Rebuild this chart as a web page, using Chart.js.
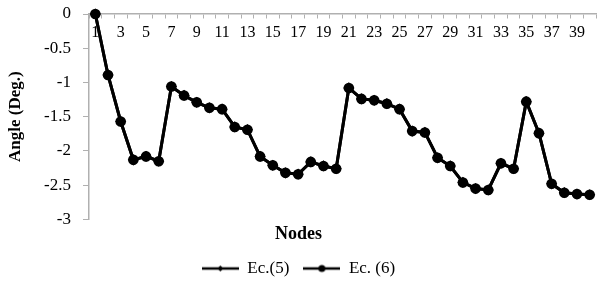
<!DOCTYPE html>
<html>
<head>
<meta charset="utf-8">
<script src="https://cdn.jsdelivr.net/npm/chart.js@4.4.1/dist/chart.umd.min.js"></script>
<style>
  html, body { margin: 0; padding: 0; background: #fff; }
  #wrap { width: 603px; height: 286px; }
</style>
</head>
<body>
<div id="wrap"><canvas id="grafico" width="603" height="286"></canvas></div>
<script>
// nodes 1..40
const nodes = ['1','2','3','4','5','6','7','8','9','10','11','12','13','14','15','16','17','18','19','20',
  '21','22','23','24','25','26','27','28','29','30','31','32','33','34','35','36','37','38','39','40'];

const ec5 = [0, -0.89, -1.57, -2.13, -2.08, -2.15, -1.06, -1.19, -1.29, -1.37,
  -1.39, -1.65, -1.69, -2.08, -2.21, -2.32, -2.34, -2.16, -2.22, -2.26,
  -1.08, -1.24, -1.26, -1.31, -1.39, -1.71, -1.73, -2.10, -2.22, -2.46,
  -2.55, -2.57, -2.18, -2.26, -1.28, -1.74, -2.48, -2.61, -2.63, -2.64];

const ec6 = [0, -0.89, -1.57, -2.13, -2.08, -2.15, -1.06, -1.19, -1.29, -1.37,
  -1.39, -1.65, -1.69, -2.08, -2.21, -2.32, -2.34, -2.16, -2.22, -2.26,
  -1.08, -1.24, -1.26, -1.31, -1.39, -1.71, -1.73, -2.10, -2.22, -2.46,
  -2.55, -2.57, -2.18, -2.26, -1.28, -1.74, -2.48, -2.61, -2.63, -2.64];

const serie5 = 'Ec.(5)';
const serie6 = 'Ec. (6)';

const fonte = "'Liberation Serif', 'Times New Roman', serif";
const cinza = '#b0b0b0';

// legend icon: short line with marker in the middle
function iconeLegenda(tipo) {
  const c = document.createElement('canvas');
  c.width = 37; c.height = 10;
  const g = c.getContext('2d');
  g.strokeStyle = '#000'; g.fillStyle = '#000'; g.lineWidth = 2.5;
  g.beginPath(); g.moveTo(0, 5); g.lineTo(37, 5); g.stroke();
  g.beginPath();
  if (tipo === 'diamante') {
    g.moveTo(18.5, 2); g.lineTo(21.5, 5); g.lineTo(18.5, 8); g.lineTo(15.5, 5); g.closePath();
  } else {
    g.arc(18.5, 5, 3.5, 0, Math.PI * 2);
  }
  g.fill();
  return c;
}
const icones = [iconeLegenda('diamante'), iconeLegenda('circulo')];

const ctx = document.getElementById('grafico').getContext('2d');

new Chart(ctx, {
  type: 'line',
  data: {
    labels: nodes,
    datasets: [{
      label: serie5,
      data: ec5,
      borderColor: '#000',
      backgroundColor: '#000',
      borderWidth: 3,
      pointStyle: 'rectRot',
      pointRadius: 3.5,
      tension: 0,
      clip: false
    }, {
      label: serie6,
      data: ec6,
      borderColor: '#000',
      backgroundColor: '#000',
      borderWidth: 3,
      pointStyle: 'circle',
      pointRadius: 3.8,
      tension: 0,
      clip: false
    }]
  },
  options: {
    responsive: false,
    animation: false,
    devicePixelRatio: 1,
    layout: { padding: { top: 14, right: 6, left: 0, bottom: -1 } },
    scales: {
      x: {
        type: 'category',
        position: { y: 0 },
        offset: true,
        afterFit: function (s) { s.height = 0; },
        grid: {
          offset: true,
          drawOnChartArea: false,
          drawTicks: true,
          tickLength: 4,
          color: cinza
        },
        border: { color: cinza, width: 1.5 },
        ticks: {
          autoSkip: false,
          maxRotation: 0,
          padding: 5,
          color: '#000',
          font: { family: fonte, size: 16 },
          callback: function (v, i) { return i % 2 === 0 ? this.getLabelForValue(v) : ''; }
        }
      },
      y: {
        min: -3,
        max: 0,
        afterFit: function (s) {
          s.width = 89;
          s.paddingTop = 0;
          s.paddingBottom = 0;
        },
        grid: {
          drawOnChartArea: false,
          tickLength: 6,
          color: cinza
        },
        border: { color: cinza, width: 1.5 },
        ticks: {
          stepSize: 0.5,
          padding: 12,
          color: '#000',
          font: { family: fonte, size: 17 },
          callback: function (v) { return String(v); }
        },
        title: {
          display: true,
          text: 'Angle (Deg.)',
          color: '#000',
          font: { family: fonte, size: 17, weight: 'bold' },
          padding: { top: 5, bottom: 0 }
        }
      }
    },
    plugins: {
      title: {
        display: true,
        position: 'bottom',
        weight: 500,
        text: 'Nodes',
        color: '#000',
        font: { family: fonte, size: 18, weight: 'bold' },
        padding: { top: 4, bottom: 1 }
      },
      legend: {
        position: 'bottom',
        labels: {
          usePointStyle: true,
          pointStyleWidth: 37,
          padding: 14,
          color: '#000',
          font: { family: fonte, size: 17 },
          generateLabels: function (chart) {
            const itens = Chart.defaults.plugins.legend.labels.generateLabels(chart);
            itens.forEach(function (it) { it.pointStyle = icones[it.datasetIndex]; });
            return itens;
          }
        }
      },
      tooltip: { enabled: false }
    }
  }
});
</script>
</body>
</html>
